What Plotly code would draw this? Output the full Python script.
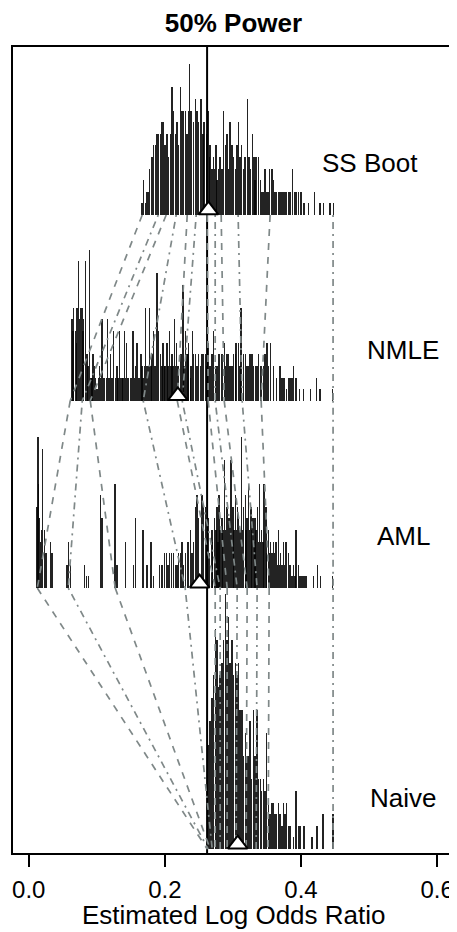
import plotly.graph_objects as go

# ---------------- data ----------------
TITLE = "50% Power"
X_LABEL = "Estimated Log Odds Ratio"
METHODS = ["SS Boot", "NMLE", "AML", "Naive"]
TRUE_VALUE = 0.262
MEANS = [0.264, 0.219, 0.251, 0.307]
TICK_VALUES = [0.0, 0.2, 0.4, 0.6]
TICK_LABELS = ["0.0", "0.2", "0.4", "0.6"]

# stacked spike counts (estimate value : number of estimates)
SSBOOT_X = [0.1662, 0.1686, 0.1711, 0.1735, 0.1760, 0.1774, 0.1809, 0.1833, 0.1858, 0.1882,
            0.1907, 0.1931, 0.1956, 0.1980, 0.2004, 0.2029, 0.2053, 0.2078, 0.2102, 0.2127,
            0.2151, 0.2176, 0.2200, 0.2225, 0.2249, 0.2274, 0.2298, 0.2323, 0.2347, 0.2362,
            0.2386, 0.2421, 0.2445, 0.2470, 0.2494, 0.2528, 0.2558, 0.2577, 0.2607, 0.2631,
            0.2665, 0.2714, 0.2749, 0.2788, 0.2812, 0.2861, 0.2886, 0.2910, 0.2935, 0.2959,
            0.2984, 0.3008, 0.3033, 0.3057, 0.3081, 0.3106, 0.3130, 0.3155, 0.3179, 0.3214,
            0.3238, 0.3262, 0.3287, 0.3311, 0.3341, 0.3375, 0.3400, 0.3439, 0.3473, 0.3498,
            0.3537, 0.3571, 0.3596, 0.3644, 0.3669, 0.3718, 0.3742, 0.3791, 0.3840, 0.3874,
            0.3914, 0.3963, 0.4046, 0.4109, 0.4197, 0.4281, 0.4330, 0.4428, 0.4477,
            0.2651, 0.2690, 0.2729, 0.2768, 0.2837, 0.3326, 0.3424, 0.3522, 0.3620, 0.3693,
            0.3767, 0.3816, 0.3938, 0.4002]
SSBOOT_N = [1, 3, 1, 2, 2, 4, 5, 6, 6, 7,
            7, 7, 8, 8, 6, 7, 5, 7, 11, 9,
            7, 8, 6, 11, 9, 9, 9, 7, 9, 13,
            9, 8, 10, 9, 8, 10, 7, 8, 7, 9,
            6, 5, 6, 4, 5, 9, 6, 7, 4, 8,
            6, 5, 4, 6, 8, 5, 6, 4, 5, 10,
            5, 4, 7, 5, 5, 5, 3, 2, 4, 2,
            4, 4, 3, 2, 2, 2, 2, 2, 2, 4,
            2, 2, 1, 1, 2, 1, 1, 1, 1,
            5, 4, 4, 3, 4, 3, 2, 2, 2, 2,
            2, 2, 2, 2]

NMLE_X = [0.0634, 0.0658, 0.0683, 0.0707, 0.0732, 0.0756, 0.0781, 0.0805, 0.0830, 0.0854,
          0.0888, 0.0913, 0.0942, 0.0962, 0.1001, 0.1040, 0.1074, 0.1109, 0.1157, 0.1197,
          0.1246, 0.1295, 0.1329, 0.1368, 0.1402, 0.1432, 0.1466, 0.1490, 0.1530, 0.1564,
          0.1588, 0.1613, 0.1647, 0.1676, 0.1711, 0.1735, 0.1774, 0.1809, 0.1833, 0.1882,
          0.1907, 0.1931, 0.1970, 0.2004, 0.2029, 0.2068, 0.2102, 0.2137, 0.2166, 0.2200,
          0.2225, 0.2264, 0.2298, 0.2323, 0.2347, 0.2372, 0.2406, 0.2445, 0.2494, 0.2543,
          0.2592, 0.2641, 0.2665, 0.2714, 0.2763, 0.2802, 0.2837, 0.2871, 0.2910, 0.2959,
          0.3008, 0.3047, 0.3081, 0.3116, 0.3155, 0.3204, 0.3253, 0.3302, 0.3351, 0.3400,
          0.3449, 0.3498, 0.3556, 0.3595, 0.3644, 0.3693, 0.3752, 0.3791, 0.3840, 0.3889,
          0.3928, 0.3977, 0.4036, 0.4144, 0.4232, 0.4281, 0.4467,
          0.0649, 0.0697, 0.0746, 0.0795, 0.0869, 0.0927, 0.0981, 0.1020, 0.1055, 0.1094,
          0.1138, 0.1177, 0.1221, 0.1270, 0.1309, 0.1349, 0.1383, 0.1417, 0.1451, 0.1510,
          0.1549, 0.1627, 0.1662, 0.1696, 0.1755, 0.1794, 0.1853, 0.1955, 0.1990, 0.2048,
          0.2088, 0.2117, 0.2151, 0.2186, 0.2244, 0.2283, 0.2337, 0.2386, 0.2421, 0.2470,
          0.2519, 0.2568, 0.2617, 0.2690, 0.2739, 0.2788, 0.2886, 0.2935, 0.2984, 0.3033,
          0.3106, 0.3180, 0.3229, 0.3278, 0.3327, 0.3376, 0.3424, 0.3473, 0.3522, 0.3718,
          0.3816, 0.3865]
NMLE_N = [7, 8, 6, 8, 12, 8, 8, 7, 12, 4,
          13, 2, 4, 3, 1, 3, 7, 2, 7, 4,
          6, 3, 6, 2, 6, 5, 2, 2, 6, 3,
          5, 2, 4, 2, 8, 3, 8, 4, 6, 11,
          6, 4, 5, 3, 5, 6, 4, 7, 5, 3,
          4, 10, 6, 4, 5, 2, 6, 4, 4, 4,
          4, 5, 3, 6, 3, 4, 4, 5, 4, 3,
          4, 5, 5, 8, 4, 3, 4, 3, 3, 3,
          3, 5, 5, 3, 2, 3, 2, 1, 2, 3,
          2, 1, 1, 1, 2, 1, 1,
          6, 5, 7, 6, 3, 2, 2, 2, 2, 2,
          2, 2, 2, 2, 2, 2, 2, 2, 2, 2,
          2, 2, 3, 3, 3, 3, 3, 3, 3, 3,
          3, 3, 3, 3, 4, 3, 4, 3, 4, 3,
          3, 4, 3, 4, 3, 4, 3, 4, 3, 4,
          3, 4, 3, 4, 3, 4, 3, 4, 3, 2,
          2, 2]

AML_X = [0.0120, 0.0135, 0.0144, 0.0159, 0.0169, 0.0184, 0.0203, 0.0233, 0.0252, 0.0316,
         0.0340, 0.0561, 0.0585, 0.0609, 0.0815, 0.0844, 0.0879, 0.1050, 0.1074, 0.1265,
         0.1295, 0.1417, 0.1540, 0.1564, 0.1677, 0.1736, 0.1794, 0.1833, 0.1916, 0.1955,
         0.1990, 0.2019, 0.2044, 0.2068, 0.2093, 0.2127, 0.2151, 0.2176, 0.2200, 0.2225,
         0.2249, 0.2274, 0.2298, 0.2333, 0.2347, 0.2372, 0.2396, 0.2421, 0.2445, 0.2470,
         0.2494, 0.2543, 0.2568, 0.2592, 0.2616, 0.2641, 0.2655, 0.2690, 0.2704, 0.2729,
         0.2749, 0.2763, 0.2778, 0.2797, 0.2812, 0.2837, 0.2851, 0.2871, 0.2890, 0.2910,
         0.2935, 0.2949, 0.2969, 0.2998, 0.3013, 0.3033, 0.3052, 0.3067, 0.3082, 0.3096,
         0.3111, 0.3126, 0.3140, 0.3155, 0.3180, 0.3194, 0.3204, 0.3229, 0.3243, 0.3263,
         0.3277, 0.3292, 0.3312, 0.3326, 0.3341, 0.3360, 0.3375, 0.3390, 0.3409, 0.3424,
         0.3439, 0.3458, 0.3483, 0.3497, 0.3522, 0.3537, 0.3556, 0.3576, 0.3595, 0.3615,
         0.3635, 0.3654, 0.3669, 0.3684, 0.3703, 0.3723, 0.3742, 0.3762, 0.3781, 0.3816,
         0.3840, 0.3865, 0.3889, 0.3914, 0.3928, 0.3962, 0.3987, 0.4012, 0.4046, 0.4075,
         0.4183, 0.4241, 0.4290, 0.4467]
AML_N = [7, 13, 9, 6, 4, 5, 12, 5, 3, 4,
         3, 2, 4, 2, 2, 1, 1, 8, 6, 9,
         2, 4, 2, 6, 5, 2, 4, 1, 2, 2,
         3, 3, 2, 3, 3, 3, 2, 2, 3, 3,
         4, 2, 3, 4, 4, 5, 3, 4, 7, 8,
         6, 8, 7, 7, 4, 6, 3, 5, 4, 6,
         5, 7, 4, 8, 5, 6, 5, 11, 5, 7,
         6, 6, 11, 7, 5, 8, 5, 7, 6, 5,
         5, 13, 5, 7, 8, 5, 6, 9, 5, 7,
         5, 6, 4, 6, 5, 7, 4, 9, 4, 5,
         4, 9, 7, 3, 5, 3, 4, 3, 4, 3,
         4, 2, 5, 2, 3, 2, 4, 2, 4, 3,
         2, 1, 2, 1, 5, 2, 1, 1, 1, 1,
         1, 2, 1, 1]

NAIVE_X = [0.2627, 0.2641, 0.2665, 0.2690, 0.2714, 0.2739, 0.2763, 0.2788, 0.2812, 0.2837,
           0.2861, 0.2886, 0.2910, 0.2935, 0.2959, 0.2984, 0.3008, 0.3033, 0.3057, 0.3082,
           0.3106, 0.3131, 0.3155, 0.3180, 0.3204, 0.3229, 0.3253, 0.3277, 0.3302, 0.3326,
           0.3351, 0.3375, 0.3400, 0.3424, 0.3449, 0.3473, 0.3497, 0.3522, 0.3546, 0.3571,
           0.3595, 0.3620, 0.3644, 0.3669, 0.3693, 0.3718, 0.3742, 0.3767, 0.3791, 0.3816,
           0.3840, 0.3889, 0.3928, 0.3962, 0.3987, 0.4046, 0.4163, 0.4236, 0.4325, 0.4471]
NAIVE_N = [6, 9, 11, 13, 15, 19, 18, 14, 15, 16,
           18, 22, 18, 20, 16, 18, 15, 16, 15, 16,
           12, 12, 8, 10, 8, 8, 11, 6, 12, 8,
           12, 6, 6, 5, 6, 5, 10, 4, 3, 4,
           4, 3, 3, 4, 3, 2, 4, 3, 4, 2,
           2, 1, 5, 2, 2, 2, 1, 2, 3, 3]

SPIKES_X = [SSBOOT_X, NMLE_X, AML_X, NAIVE_X]
SPIKES_N = [SSBOOT_N, NMLE_N, AML_N, NAIVE_N]

# matched quantiles of each method, joined from row to row
Q_SSBOOT = [0.1667, 0.1902, 0.2019, 0.2166, 0.2328, 0.2460, 0.2621, 0.2739, 0.2827, 0.3076, 0.3546, 0.4471]
Q_NMLE = [0.0609, 0.0786, 0.0903, 0.1681, 0.2181, 0.2254, 0.2636, 0.2739, 0.2871, 0.3135, 0.3414, 0.4471]
Q_AML = [0.0125, 0.0580, 0.1270, 0.2298, 0.2739, 0.2812, 0.2915, 0.3062, 0.3209, 0.3355, 0.3532, 0.4471]
Q_NAIVE = [0.2621, 0.2636, 0.2665, 0.2695, 0.2739, 0.2812, 0.2915, 0.3047, 0.3194, 0.3341, 0.3517, 0.4471]
QUANTILES = [Q_SSBOOT, Q_NMLE, Q_AML, Q_NAIVE]

# ---------------- layout constants ----------------
FONT = "Liberation Sans, Arial, sans-serif"
PAGE_OFFSET = 8                      # default body margin of the html page
FIG_W, FIG_H = 457 - PAGE_OFFSET, 932 - PAGE_OFFSET
BASELINES = [55.0, 38.99, 22.84, 0.34]   # row baselines in stacking units
Y_RANGE = [0, 69.48]
X_RANGE = [-0.0232, 0.6248]
LABEL_POS = [(0.5007, 59.5), (0.5504, 43.35), (0.5504, 27.3), (0.5504, 4.75)]
SPIKE_W = 0.0020
GRAY = "#7f8888"
DASHES = ["7px,7px", "2px,5px,7px,5px"]

fig = go.Figure()

# spikes
for xs, ns, b in zip(SPIKES_X, SPIKES_N, BASELINES):
    fig.add_trace(go.Bar(x=xs, y=ns, base=b, width=SPIKE_W,
                         marker=dict(color="rgba(5,5,5,0.88)", line=dict(width=0)),
                         showlegend=False, hoverinfo="skip"))

# true value vertical line
fig.add_trace(go.Scatter(x=[TRUE_VALUE, TRUE_VALUE], y=Y_RANGE, mode="lines",
                         line=dict(color="black", width=2), showlegend=False, hoverinfo="skip"))

# connectors
for k, dash in enumerate(DASHES):
    xs, ys = [], []
    for r in range(len(QUANTILES) - 1):
        for i in range(k, len(QUANTILES[r]), 2):
            xs += [QUANTILES[r][i], QUANTILES[r + 1][i], None]
            ys += [BASELINES[r], BASELINES[r + 1], None]
    fig.add_trace(go.Scatter(x=xs, y=ys, mode="lines",
                             line=dict(color=GRAY, width=1.7, dash=dash),
                             showlegend=False, hoverinfo="skip"))

# mean triangles
fig.add_trace(go.Scatter(x=MEANS, y=[b + 0.42 for b in BASELINES], mode="markers",
                         marker=dict(symbol="triangle-up", size=17, color="white",
                                     line=dict(color="black", width=2)),
                         showlegend=False, hoverinfo="skip", cliponaxis=False))

annotations = []
for name, (lx, ly) in zip(METHODS, LABEL_POS):
    annotations.append(dict(x=lx, y=ly, xref="x", yref="y", text=name, showarrow=False,
                            font=dict(family=FONT, size=26, color="black"),
                            xanchor="center", yanchor="middle"))
annotations.append(dict(x=0.5, y=0, xref="paper", yref="paper", text=X_LABEL,
                        showarrow=False, yanchor="top", yshift=-45,
                        font=dict(family=FONT, size=26, color="black")))

fig.update_layout(
    width=FIG_W, height=FIG_H,
    margin=dict(l=13 - PAGE_OFFSET, r=3, t=47 - PAGE_OFFSET, b=79, autoexpand=False),
    paper_bgcolor="white", plot_bgcolor="white",
    barmode="overlay", bargap=0,
    title=dict(text="<b>" + TITLE + "</b>", x=0.5, xref="paper",
               y=1 - (23 - PAGE_OFFSET) / FIG_H,
               yanchor="middle", xanchor="center",
               font=dict(family=FONT, size=26, color="black")),
    xaxis=dict(range=X_RANGE, tickvals=TICK_VALUES, ticktext=TICK_LABELS,
               ticks="outside", ticklen=12, tickwidth=2, tickcolor="black",
               tickfont=dict(family=FONT, size=24, color="black"),
               showline=True, linecolor="black", linewidth=2, mirror=True,
               showgrid=False, zeroline=False, automargin=False, ticklabelstandoff=2),
    yaxis=dict(range=Y_RANGE, showticklabels=False, ticks="",
               showline=True, linecolor="black", linewidth=2, mirror=True,
               showgrid=False, zeroline=False, automargin=False),
    annotations=annotations,
)

fig.write_html("out.html")
